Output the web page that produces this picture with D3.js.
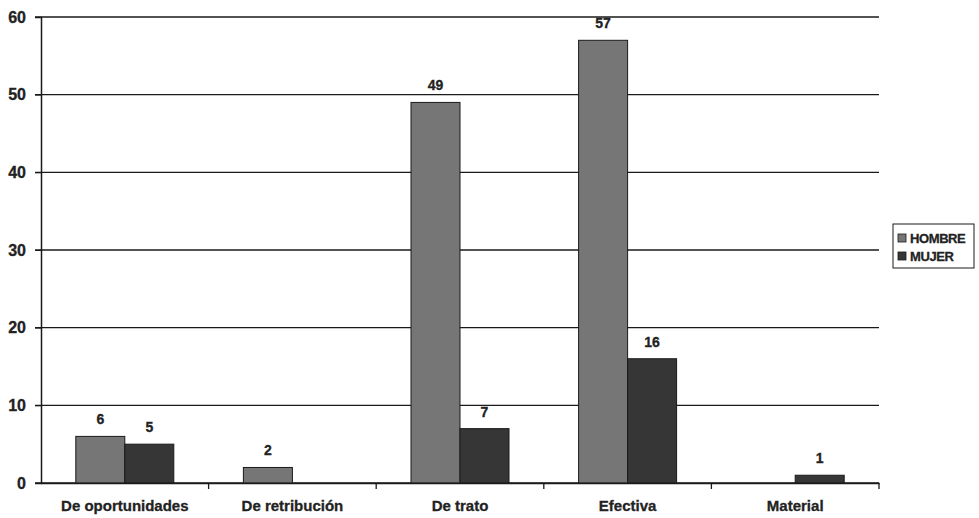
<!DOCTYPE html>
<html>
<head>
<meta charset="utf-8">
<script src="https://cdn.jsdelivr.net/npm/d3@7"></script>
<style>
  html, body { margin: 0; padding: 0; background: #fff; }
  svg text { font-family: "Liberation Sans", Arial, sans-serif; font-weight: bold; fill: #222; stroke: #222; stroke-width: 0.3px; }
</style>
</head>
<body>
<svg id="chart" width="979" height="518"></svg>
<script>
const categories = ["De oportunidades", "De retribución", "De trato", "Efectiva", "Material"];
const seriesNames = ["HOMBRE", "MUJER"];
const hombre = [6, 2, 49, 57, null];
const mujer = [5, null, 7, 16, 1];
const yTicks = [0, 10, 20, 30, 40, 50, 60];
const colors = ["#767676", "#363636"];

const svg = d3.select("#chart");
const margin = { left: 41, right: 100, top: 17, bottom: 35 };
const W = 979, H = 518;
const x0 = margin.left, x1 = W - margin.right;
const yTop = margin.top, yBot = H - margin.bottom;

const x = d3.scaleBand().domain(categories).range([x0, x1]).paddingInner(0).paddingOuter(0);
const y = d3.scaleLinear().domain([0, 60]).range([yBot, yTop]);
const barW = 49;
const xs = d3.scaleBand().domain(seriesNames).range([0, barW * 2]);

// horizontal gridlines
svg.append("g").selectAll("line").data(yTicks).join("line")
  .attr("x1", x0 - 6).attr("x2", x1)
  .attr("y1", d => y(d)).attr("y2", d => y(d))
  .attr("stroke", "#1a1a1a").attr("stroke-width", 1.3);

// y axis
const yAxis = svg.append("g").attr("transform", `translate(${x0},0)`)
  .call(d3.axisLeft(y).tickValues(yTicks).tickSize(6).tickPadding(9));
yAxis.select(".domain").attr("stroke", "#1a1a1a").attr("stroke-width", 1.5);
yAxis.selectAll("line").attr("stroke", "#1a1a1a");
yAxis.selectAll("text").attr("font-size", 16).attr("fill", "#222")
  .style("font-family", "'Liberation Sans', Arial, sans-serif").style("font-weight", "bold");

// bars
const series = [hombre, mujer];
const bars = svg.append("g");
series.forEach((vals, si) => {
  categories.forEach((c, ci) => {
    const v = vals[ci];
    if (v == null) return;
    const bx = x(c) + (x.bandwidth() - barW * 2) / 2 + xs(seriesNames[si]);
    bars.append("rect")
      .attr("x", bx).attr("y", y(v))
      .attr("width", xs.bandwidth()).attr("height", y(0) - y(v))
      .attr("fill", colors[si]).attr("stroke", "#1a1a1a").attr("stroke-width", 1);
    bars.append("text")
      .attr("x", bx + xs.bandwidth() / 2).attr("y", y(v) - 12)
      .attr("text-anchor", "middle").attr("font-size", 14)
      .text(v);
  });
});

// x axis
const xAxis = svg.append("g").attr("transform", `translate(0,${yBot})`)
  .call(d3.axisBottom(x).tickSize(0).tickPadding(17));
xAxis.select(".domain").attr("stroke", "#1a1a1a").attr("stroke-width", 1.5);
xAxis.selectAll("text").attr("font-size", 15).attr("fill", "#222")
  .style("font-family", "'Liberation Sans', Arial, sans-serif").style("font-weight", "bold");
// category separator ticks
svg.append("g").selectAll("line").data(categories).join("line")
  .attr("x1", d => x(d) + x.bandwidth()).attr("x2", d => x(d) + x.bandwidth())
  .attr("y1", yBot).attr("y2", yBot + 6)
  .attr("stroke", "#1a1a1a").attr("stroke-width", 1.3);

// legend
const lg = svg.append("g").attr("transform", "translate(893,224)");
lg.append("rect").attr("width", 81).attr("height", 44)
  .attr("fill", "#fff").attr("stroke", "#1a1a1a").attr("stroke-width", 1);
seriesNames.forEach((n, i) => {
  lg.append("rect").attr("x", 5).attr("y", 10 + i * 18).attr("width", 8).attr("height", 8)
    .attr("fill", colors[i]).attr("stroke", "#1a1a1a").attr("stroke-width", 0.8);
  lg.append("text").attr("x", 17).attr("y", 19 + i * 18)
    .attr("font-size", 13).style("font-family", "'Liberation Sans Narrow', 'Liberation Sans', Arial, sans-serif")
    .attr("letter-spacing", -0.4)
    .text(n);
});
</script>
</body>
</html>
